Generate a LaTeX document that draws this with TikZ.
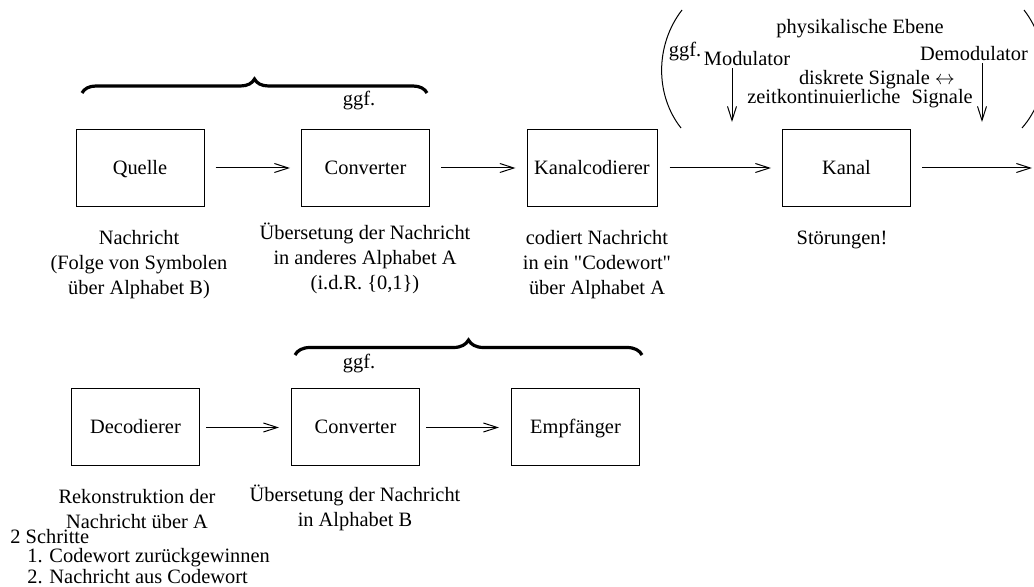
\documentclass[tikz,border=0pt]{standalone}
\usepackage{fontspec}
\setmainfont{Liberation Serif}[Ligatures=TeXOff]
\usetikzlibrary{arrows.meta,decorations.pathreplacing}
\begin{document}
\begin{tikzpicture}[x=0.5pt,y=-0.5pt,
  font=\fontsize{10.2pt}{12.5pt}\selectfont,
  block/.style={draw, line width=0.5pt, minimum width=64pt, minimum height=38.5pt, inner sep=0pt,
    text height=7pt, text depth=0.8pt},
  note/.style={align=center, inner sep=0pt},
  plain/.style={inner sep=0pt},
  flow/.style={-{Straight Barb[length=7pt,width=4.5pt]}, line width=0.5pt},
  curly/.style={decorate, decoration={brace, amplitude=#1}, line width=1.6pt},
]
\useasboundingbox (0,0) rectangle (1034,587);
\fill[white] (0,0) rectangle (1034,587);

% sending chain
\node[block] (quelle) at (140,168) {Quelle};
\node[block] (conv1) at (365.5,168) {Converter};
\node[block, minimum width=65pt] (kcod) at (592,168) {Kanalcodierer};
\node[block] (kanal) at (846.5,168) {Kanal};
\coordinate (out) at (1032,168);

\draw[flow, shorten <=5.5pt, shorten >=5.5pt] (quelle) -- (conv1);
\draw[flow, shorten <=5.5pt, shorten >=5.5pt] (conv1) -- (kcod);
\draw[flow, shorten <=6pt, shorten >=5.5pt] (kcod) -- (kanal);
\draw[flow, shorten <=5.5pt] (kanal) -- (out);

% receiving chain
\node[block] (dec) at (135.5,427.5) {Decodierer};
\node[block] (conv2) at (355.5,427.5) {Converter};
\node[block] (empf) at (575.5,427.5) {Empfänger};

\draw[flow, shorten <=3pt, shorten >=6pt] (dec) -- (conv2);
\draw[flow, shorten <=3pt, shorten >=6pt] (conv2) -- (empf);

% optional stages
\coordinate (b1l) at (82,93);
\coordinate (b1r) at (427,93);
\draw[curly=7pt] (b1l) -- (b1r);
\node[plain] (ggf1) at (359,101) {ggf.};

\coordinate (b2l) at (295,355);
\coordinate (b2r) at (642,355);
\draw[curly=7.5pt] (b2l) -- (b2r);
\node[plain] (ggf2) at (359,364) {ggf.};

% physical layer
\node[plain] (phys) at (860,29) {physikalische Ebene};
\node[plain] (ggf3) at (685,52) {ggf.};
\node[plain] (mod) at (747,59) {Modulator};
\node[plain] (demod) at (974,54) {Demodulator};
\node[plain] (disk) at (877,80) {diskrete Signale $\leftrightarrow$};
\node[plain] (zeit) at (860,99) {zeitkontinuierliche\hspace{0.3em} Signale};

\coordinate (m1) at (732,68);
\coordinate (m2) at (732,122);
\coordinate (d1) at (982,63);
\coordinate (d2) at (982,122);
\draw[flow] (m1) -- (m2);
\draw[flow] (d1) -- (d2);

\draw[line width=0.5pt] (682,10) .. controls (655,45) and (655,95) .. (681,128);
\draw[line width=0.5pt] (1024,10) .. controls (1051,45) and (1051,95) .. (1022,128);

% descriptions
\node[note] (tq) at (139,265) {Nachricht\\(Folge von Symbolen\\über Alphabet B)};
\node[note] (tc1) at (365,258) {Übersetung der Nachricht\\in anderes Alphabet A\\(i.d.R. \{0,1\})};
\node[note] (tk) at (597,265) {codiert Nachricht\\in ein "Codewort"\\über Alphabet A};
\node[plain] (ts) at (842,240) {Störungen!};

\node[note] (td) at (137,509.5) {Rekonstruktion der\\Nachricht über A};
\node[note] (tc2) at (355,508) {Übersetung der Nachricht\\in Alphabet B};

\node[plain, anchor=west] (steps) at (10,537) {2 Schritte};
\node[plain, anchor=west] (s1) at (27,558) {1. Codewort zurückgewinnen};
\node[plain, anchor=west] (s2) at (27,577) {2. Nachricht aus Codewort};
\end{tikzpicture}
\end{document}
